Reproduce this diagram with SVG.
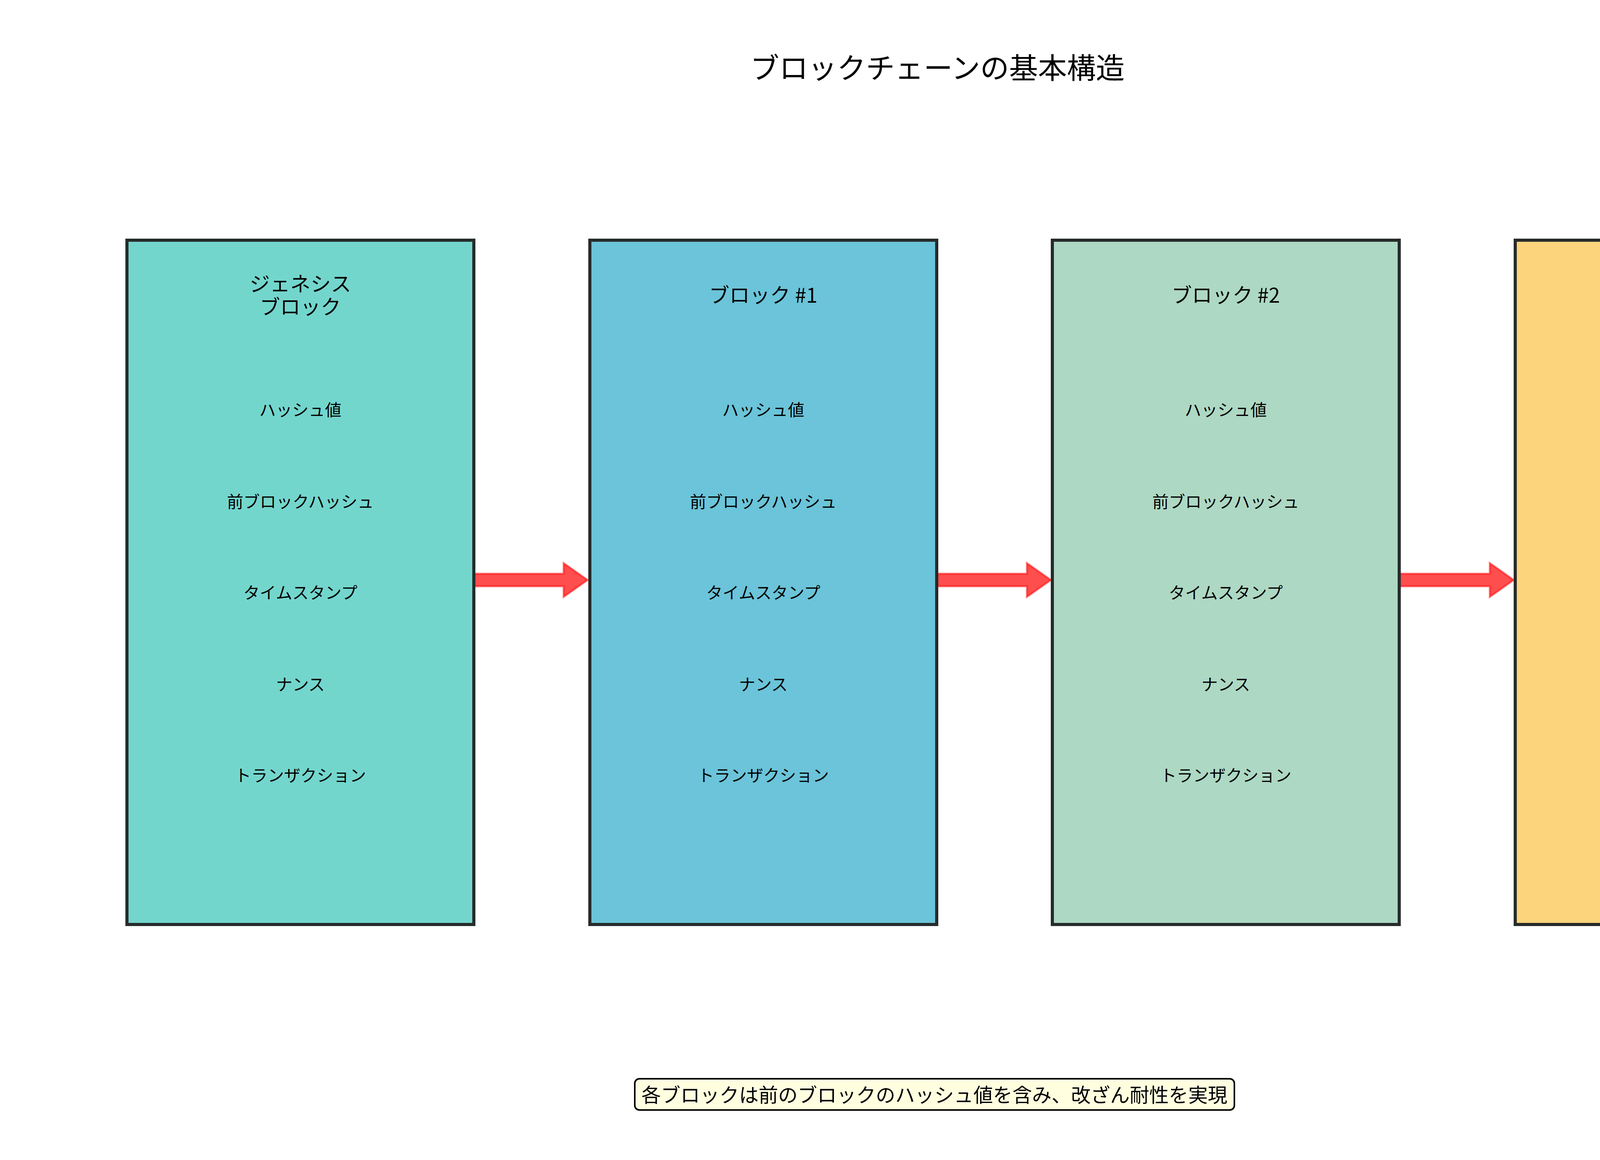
<svg xmlns="http://www.w3.org/2000/svg" width="4770" height="2970" viewBox="0 0 4770 2970">
<style>
text{font-family:"Noto Sans CJK JP","Noto Sans",sans-serif;fill:#000;text-anchor:middle;dominant-baseline:central}
.box{stroke:#262b2b;stroke-width:8}
.h{font-size:52px}
.r{font-size:42px}
.t{font-size:74px}
.f{font-size:50px}
.arr{fill:#ff2222;fill-opacity:0.8;stroke:#ff1111;stroke-opacity:0.6;stroke-width:5}
</style>
<rect width="4770" height="2970" fill="#fff"/>
<text class="t" x="2400" y="168">ブロックチェーンの基本構造</text>
<g id="connectors">
<polygon class="arr" points="1210,1469 1443,1469 1443,1442 1504,1485 1443,1528 1443,1501 1210,1501"/>
<polygon class="arr" points="2396,1469 2629,1469 2629,1442 2690,1485 2629,1528 2629,1501 2396,1501"/>
<polygon class="arr" points="3581,1469 3814,1469 3814,1442 3875,1485 3814,1528 3814,1501 3581,1501"/>
</g>
<g id="genesis">
<rect class="box" x="325" y="615" width="888" height="1752" fill="#73d6cd"/>
<text class="h" x="769" y="723">ジェネシス</text>
<text class="h" x="769" y="782">ブロック</text>
<text class="r" x="769" y="1046">ハッシュ値</text>
<text class="r" x="769" y="1281">前ブロックハッシュ</text>
<text class="r" x="769" y="1514">タイムスタンプ</text>
<text class="r" x="769" y="1749">ナンス</text>
<text class="r" x="769" y="1982">トランザクション</text>
</g>
<g id="block1">
<rect class="box" x="1510" y="615" width="888" height="1752" fill="#6bc4d9"/>
<text class="h" x="1954" y="752">ブロック #1</text>
<text class="r" x="1954" y="1046">ハッシュ値</text>
<text class="r" x="1954" y="1281">前ブロックハッシュ</text>
<text class="r" x="1954" y="1514">タイムスタンプ</text>
<text class="r" x="1954" y="1749">ナンス</text>
<text class="r" x="1954" y="1982">トランザクション</text>
</g>
<g id="block2">
<rect class="box" x="2694" y="615" width="888" height="1752" fill="#add8c4"/>
<text class="h" x="3138" y="752">ブロック #2</text>
<text class="r" x="3138" y="1046">ハッシュ値</text>
<text class="r" x="3138" y="1281">前ブロックハッシュ</text>
<text class="r" x="3138" y="1514">タイムスタンプ</text>
<text class="r" x="3138" y="1749">ナンス</text>
<text class="r" x="3138" y="1982">トランザクション</text>
</g>
<g id="block3">
<rect class="box" x="3879" y="615" width="884" height="1752" fill="#fcd47b"/>
<text class="h" x="4323" y="752">ブロック #3</text>
<text class="r" x="4323" y="1046">ハッシュ値</text>
<text class="r" x="4323" y="1281">前ブロックハッシュ</text>
<text class="r" x="4323" y="1514">タイムスタンプ</text>
<text class="r" x="4323" y="1749">ナンス</text>
<text class="r" x="4323" y="1982">トランザクション</text>
</g>
<g id="note">
<rect x="1625" y="2762" width="1535" height="80" rx="12" fill="#ffffe0" stroke="#000" stroke-width="4"/>
<text class="f" x="2392" y="2800">各ブロックは前のブロックのハッシュ値を含み、改ざん耐性を実現</text>
</g>
</svg>
